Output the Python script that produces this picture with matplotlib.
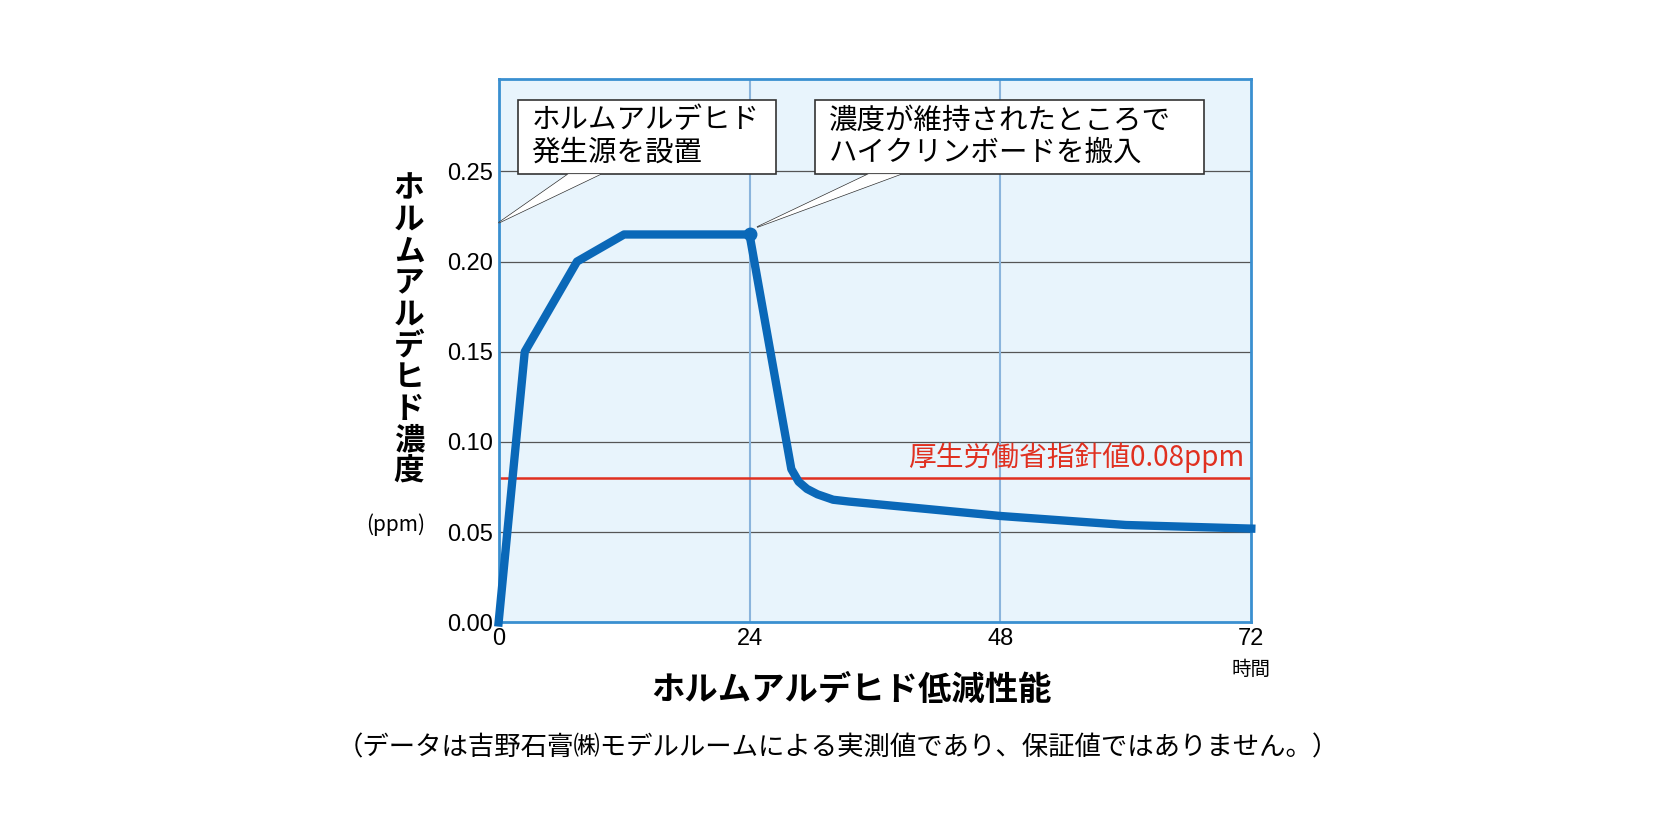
import matplotlib
matplotlib.use("Agg")
import matplotlib.pyplot as plt
from matplotlib.patches import Polygon

plt.rcParams["font.family"] = ["Noto Sans CJK JP"]

hours = [0, 2.5, 7.5, 12, 24, 28, 28.7, 29.5, 30.5, 32, 33.5, 48, 60, 72]
conc = [0, 0.15, 0.20, 0.215, 0.215, 0.085, 0.078, 0.074, 0.071, 0.068, 0.067, 0.059, 0.054, 0.052]
guide = 0.08
xticks = [0, 24, 48, 72]
yticks = [0.00, 0.05, 0.10, 0.15, 0.20, 0.25]

W, H = 1676, 840
fig = plt.figure(figsize=(W/100, H/100), dpi=100)
ax = fig.add_axes([0.2975, 0.259, 0.4491, 0.6466])
ax.set_facecolor("#e8f4fc")
ax.set_xlim(0, 72)
ax.set_ylim(0, 0.301)
for y in yticks[1:]:
    ax.axhline(y, color="#555555", lw=0.9, zorder=1)
for x in [24, 48]:
    ax.axvline(x, color="#8ab4dc", lw=1.5, zorder=1)
for s in ax.spines.values():
    s.set_color("#3a8fd0"); s.set_linewidth(2)
ax.axhline(guide, color="#e03020", lw=1.8, zorder=2)
ax.text(71.3, guide + 0.003, "厚生労働省指針値0.08ppm", color="#e03020", fontsize=20, ha="right", va="bottom")
ax.plot(hours, conc, color="#0a68b8", lw=6, solid_joinstyle="round", zorder=4, clip_on=False)
ax.plot([24], [0.215], "o", color="#0a68b8", ms=9, zorder=5)
ax.set_xticks(xticks)
ax.set_xticklabels([str(v) for v in xticks], fontsize=17, fontfamily="Liberation Sans")
ax.set_yticks(yticks)
ax.set_yticklabels([f"{v:.2f}" for v in yticks], fontsize=17, fontfamily="Liberation Sans")
ax.tick_params(length=0, pad=4)

def callout(x0, x1, y0, y1, tip, base, text):
    ax.add_patch(Polygon([base[0], tip, base[1]], closed=False, fc="white", ec="#333333", lw=1, transform=ax.transAxes, zorder=6, clip_on=False))
    ax.add_patch(Polygon([(x0, y0), (x1, y0), (x1, y1), (x0, y1)], closed=True, fc="white", ec="#333333", lw=1.2, transform=ax.transAxes, zorder=7))
    ax.add_patch(Polygon([base[0], tip, base[1]], closed=True, fc="white", ec="none", transform=ax.transAxes, zorder=8))
    ax.text(x0 + 0.018, (y0 + y1)/2, text, transform=ax.transAxes, fontsize=20.5, va="center", ha="left", zorder=9, linespacing=1.1)

def fx(px): return (px - 465) / (1167 - 465)
def fy(py): return (581 - py) / (581 - 74)
callout(fx(483), fx(724), fy(162), fy(93), (0.0, fy(208)), ((fx(530), fy(162.5)), (fx(560), fy(162.5))), "ホルムアルデヒド\n発生源を設置")
callout(fx(760), fx(1123), fy(162), fy(93), (fx(706), fy(212)), ((fx(810), fy(162.5)), (fx(840), fy(162.5))), "濃度が維持されたところで\nハイクリンボードを搬入")

fig.text(0.244, 0.795, "\n".join("ホルムアルデヒド濃度"), fontsize=22, fontweight="bold", ha="center", va="top", linespacing=0.98)
fig.text(0.236, 0.375, "(ppm)", fontsize=15, ha="center", va="center")
fig.text(0.7466, 0.203, "時間", fontsize=14, ha="center", va="center")
fig.text(0.508, 0.178, "ホルムアルデヒド低減性能", fontsize=24, fontweight="bold", ha="center", va="center")
fig.text(0.5, 0.11, "（データは吉野石膏㈱モデルルームによる実測値であり、保証値ではありません。）", fontsize=19, ha="center", va="center")
fig.savefig("out.png", dpi=100)
